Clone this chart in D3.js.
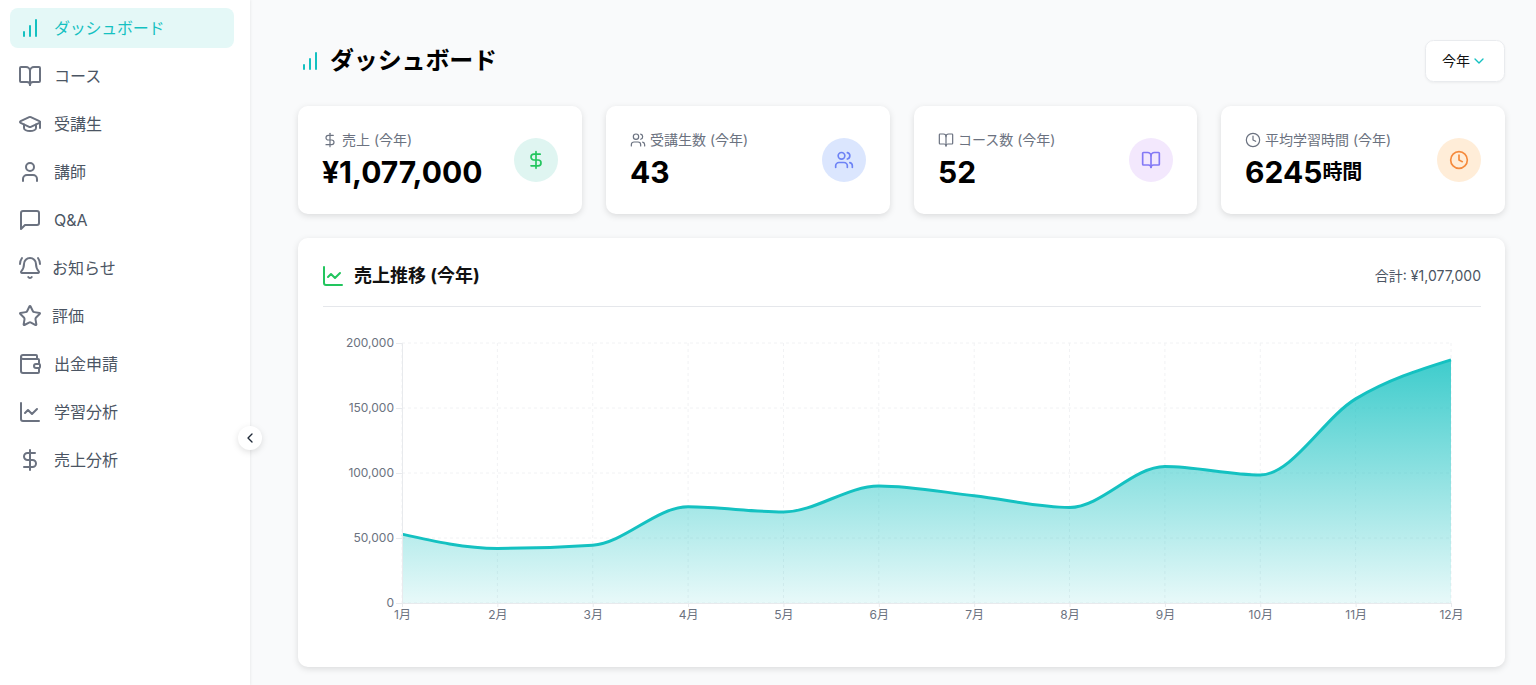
<!DOCTYPE html>
<html lang="ja">
<head>
<meta charset="utf-8">
<title>ダッシュボード</title>
<script src="https://cdn.jsdelivr.net/npm/d3@7"></script>
<style>
  html, body { margin: 0; padding: 0; background: #f9fafb; overflow: hidden; }
  svg { display: block; font-family: Inter, "Noto Sans CJK JP", sans-serif; }
  .shadow { filter: drop-shadow(0 2px 3px rgba(0,0,0,0.12)); }
  .soft { filter: drop-shadow(0 1px 1px rgba(0,0,0,0.05)); }
  .axis { font-family: Inter, "Noto Sans CJK JP", sans-serif; }
  .axis text { font-size: 12px; fill: #6b7280; }
  .axis path, .axis line { stroke: #e8eaed; }
  .grid line { stroke: #f1f2f4; stroke-dasharray: 3 3; }
</style>
</head>
<body>
<svg id="page" width="1536" height="685"></svg>
<script>
const months = ["1月","2月","3月","4月","5月","6月","7月","8月","9月","10月","11月","12月"];
const sales = [53000, 42000, 44500, 74000, 70000, 90000, 82500, 73500, 105000, 98500, 157000, 187000];
const yTicks = [0, 50000, 100000, 150000, 200000];

const navLabels = ["ダッシュボード","コース","受講生","講師","Q&A","お知らせ","評価","出金申請","学習分析","売上分析"];
const navIcons = ["bars","book","cap","user","message","bell","star","wallet","trend","dollar"];
const navTextX = [54, 54, 54, 54, 54, 52, 52, 54, 54, 54];

const cardLabels = ["売上 (今年)","受講生数 (今年)","コース数 (今年)","平均学習時間 (今年)"];
const cardValues = ["¥1,077,000","43","52","6245"];
const cardIcons = ["dollar","users","book","clock"];
const cardLeft = [298, 606, 914, 1221];
const cardWidth = [284, 284, 283, 284];
const cardLabelX = [342, 650, 958, 1265];
const cardTint = ["#dff5f1","#dbe6fe","#f3e8fd","#ffedd8"];
const cardInk = ["#22c55e","#6d83f5","#8479f5","#f58a3c"];

const icons = {
  bars: ["M12 20V10","M18 20V4","M6 20v-4"],
  book: ["M12 7v14","M3 18a1 1 0 0 1-1-1V4a1 1 0 0 1 1-1h5a4 4 0 0 1 4 4 4 4 0 0 1 4-4h5a1 1 0 0 1 1 1v13a1 1 0 0 1-1 1h-6a3 3 0 0 0-3 3 3 3 0 0 0-3-3z"],
  cap: ["M21.42 10.922a1 1 0 0 0-.019-1.838L12.83 5.18a2 2 0 0 0-1.66 0L2.6 9.08a1 1 0 0 0 0 1.832l8.57 3.908a2 2 0 0 0 1.66 0z","M22 10v6","M6 12.5V16a6 3 0 0 0 12 0v-3.5"],
  user: ["M19 21v-2a4 4 0 0 0-4-4H9a4 4 0 0 0-4 4v2","M16 7a4 4 0 1 1-8 0 4 4 0 0 1 8 0"],
  message: ["M21 15a2 2 0 0 1-2 2H7l-4 4V5a2 2 0 0 1 2-2h14a2 2 0 0 1 2 2z"],
  bell: ["M10.268 21a2 2 0 0 0 3.464 0","M22 8c0-2.3-.8-4.3-2-6","M3.262 15.326A1 1 0 0 0 4 17h16a1 1 0 0 0 .74-1.673C19.41 13.956 18 12.499 18 8A6 6 0 0 0 6 8c0 4.499-1.411 5.956-2.738 7.326","M4 2C2.8 3.7 2 5.7 2 8"],
  star: ["M11.525 2.295a.53.53 0 0 1 .95 0l2.31 4.679a2.123 2.123 0 0 0 1.595 1.16l5.166.756a.53.53 0 0 1 .294.904l-3.736 3.638a2.123 2.123 0 0 0-.611 1.878l.882 5.14a.53.53 0 0 1-.771.56l-4.618-2.428a2.122 2.122 0 0 0-1.973 0L6.396 21.01a.53.53 0 0 1-.77-.56l.881-5.139a2.122 2.122 0 0 0-.611-1.879L2.16 9.795a.53.53 0 0 1 .294-.906l5.165-.755a2.122 2.122 0 0 0 1.597-1.16z"],
  wallet: ["M19 7V4a1 1 0 0 0-1-1H5a2 2 0 0 0 0 4h15a1 1 0 0 1 1 1v4h-3a2 2 0 0 0 0 4h3a1 1 0 0 0 1-1v-2a1 1 0 0 0-1-1","M3 5v14a2 2 0 0 0 2 2h15a1 1 0 0 0 1-1v-4"],
  trend: ["M3 3v16a2 2 0 0 0 2 2h16","m19 9-5 5-4-4-3 3"],
  dollar: ["M12 2v20","M17 5H9.5a3.5 3.5 0 0 0 0 7h5a3.5 3.5 0 0 1 0 7H6"],
  users: ["M16 21v-2a4 4 0 0 0-4-4H6a4 4 0 0 0-4 4v2","M13 7a4 4 0 1 1-8 0 4 4 0 0 1 8 0","M22 21v-2a4 4 0 0 0-3-3.87","M16 3.13a4 4 0 0 1 0 7.75"],
  clock: ["M22 12a10 10 0 1 1-20 0 10 10 0 0 1 20 0","M12 6v6l4 2"],
  down: ["m6 9 6 6 6-6"],
  left: ["m15 18-6-6 6-6"]
};

const teal = "#14c1c1";
const svg = d3.select("#page");

function drawIcon(parent, name, cx, cy, size, color, sw) {
  const g = parent.append("g")
      .attr("transform", `translate(${cx - size / 2}, ${cy - size / 2}) scale(${size / 24})`)
      .attr("fill", "none")
      .attr("stroke", color)
      .attr("stroke-width", sw || 2)
      .attr("stroke-linecap", "round")
      .attr("stroke-linejoin", "round");
  g.selectAll("path")
    .data(icons[name])
    .enter().append("path")
      .attr("d", d => d);
}

function label(parent, str, x, y, size, color, weight, anchor) {
  return parent.append("text")
      .attr("x", x)
      .attr("y", y)
      .attr("dominant-baseline", "central")
      .attr("text-anchor", anchor || "start")
      .attr("font-size", size)
      .attr("font-weight", weight || 400)
      .attr("fill", color)
      .text(str);
}

// sidebar
svg.append("rect")
    .attr("width", 250).attr("height", 685)
    .attr("fill", "#fff")
    .style("filter", "drop-shadow(1px 0 1px rgba(0,0,0,0.05))");
svg.append("rect")
    .attr("x", 10).attr("y", 8).attr("width", 224).attr("height", 40).attr("rx", 8)
    .attr("fill", "#e4f8f7");

navLabels.forEach((name, i) => {
  const cy = 28 + i * 48;
  const color = i === 0 ? teal : "#6b7280";
  drawIcon(svg, navIcons[i], 30, cy, 24, color);
  label(svg, name, navTextX[i], cy - 0.5, 16, i === 0 ? teal : "#4b5563")
      .attr("letter-spacing", i === 0 ? -0.25 : 0);
});

const toggle = svg.append("g").attr("class", "shadow");
toggle.append("circle").attr("cx", 250).attr("cy", 438).attr("r", 12).attr("fill", "#fff");
drawIcon(svg, "left", 250, 438, 16, "#1f2937", 2);

// header
drawIcon(svg, "bars", 310, 61, 24, teal);
label(svg, "ダッシュボード", 330, 60, 24, "#000", 700).attr("letter-spacing", -0.15);

svg.append("rect")
    .attr("class", "soft")
    .attr("x", 1425.5).attr("y", 40.5).attr("width", 79).attr("height", 41).attr("rx", 8)
    .attr("fill", "#fff").attr("stroke", "#e9ebee");
label(svg, "今年", 1442, 60.5, 14, "#111");
drawIcon(svg, "down", 1479, 61, 16, teal);

// stat cards
cardLabels.forEach((name, i) => {
  const x = cardLeft[i];
  const w = cardWidth[i];
  svg.append("rect")
      .attr("class", "shadow")
      .attr("x", x).attr("y", 106).attr("width", w).attr("height", 108).attr("rx", 10)
      .attr("fill", "#fff");
  drawIcon(svg, cardIcons[i], cardLabelX[i] - 12, 140, 16, "#6b7280", 1.8);
  label(svg, name, cardLabelX[i], 139.5, 14, "#6b7280");
  const value = label(svg, cardValues[i], x + 24, 172, 30, "#000", 700);
  if (i === 3) value.append("tspan").attr("font-size", 20).text("時間");
  const cx = x + w - 46;
  svg.append("circle").attr("cx", cx).attr("cy", 160).attr("r", 22).attr("fill", cardTint[i]);
  drawIcon(svg, cardIcons[i], cx, 160, 20, cardInk[i]);
});

// chart card
svg.append("rect")
    .attr("class", "shadow")
    .attr("x", 298).attr("y", 238).attr("width", 1207).attr("height", 429).attr("rx", 10)
    .attr("fill", "#fff");
drawIcon(svg, "trend", 333, 276, 24, "#22c55e");
label(svg, "売上推移 (今年)", 354, 275, 18, "#111", 700);
label(svg, "合計: ¥1,077,000", 1481, 275.5, 14, "#4b5563", 400, "end");
svg.append("line")
    .attr("x1", 323).attr("x2", 1481).attr("y1", 306.5).attr("y2", 306.5)
    .attr("stroke", "#e5e7eb");

const x = d3.scalePoint().domain(months).range([402, 1451]);
const y = d3.scaleLinear().domain([0, 200000]).range([603, 343]);

const grad = svg.append("defs").append("linearGradient")
    .attr("id", "salesFill")
    .attr("x1", 0).attr("x2", 0).attr("y1", 0).attr("y2", 1);
grad.append("stop").attr("offset", "0%").attr("stop-color", teal).attr("stop-opacity", 0.82);
grad.append("stop").attr("offset", "100%").attr("stop-color", teal).attr("stop-opacity", 0.1);

const grid = svg.append("g").attr("class", "grid");
grid.selectAll("line.h")
    .data(yTicks)
  .enter().append("line")
    .attr("class", "h")
    .attr("x1", 402).attr("x2", 1451)
    .attr("y1", d => y(d)).attr("y2", d => y(d));
grid.selectAll("line.v")
    .data(months)
  .enter().append("line")
    .attr("class", "v")
    .attr("y1", 343).attr("y2", 603)
    .attr("x1", d => x(d)).attr("x2", d => x(d));

const area = d3.area()
    .x((d, i) => x(months[i]))
    .y0(y(0))
    .y1(d => y(d))
    .curve(d3.curveMonotoneX);
const line = d3.line()
    .x((d, i) => x(months[i]))
    .y(d => y(d))
    .curve(d3.curveMonotoneX);

svg.append("path")
    .datum(sales)
    .attr("d", area)
    .attr("fill", "url(#salesFill)");
svg.append("path")
    .datum(sales)
    .attr("d", line)
    .attr("fill", "none")
    .attr("stroke", teal)
    .attr("stroke-width", 3);

svg.append("g")
    .attr("class", "axis")
    .attr("transform", "translate(402, 0)")
    .call(d3.axisLeft(y).tickValues(yTicks).tickFormat(d3.format(",")).tickSize(6).tickPadding(2));
svg.append("g")
    .attr("class", "axis")
    .attr("transform", "translate(0, 603)")
    .call(d3.axisBottom(x).tickSize(4).tickPadding(3));
</script>
</body>
</html>
